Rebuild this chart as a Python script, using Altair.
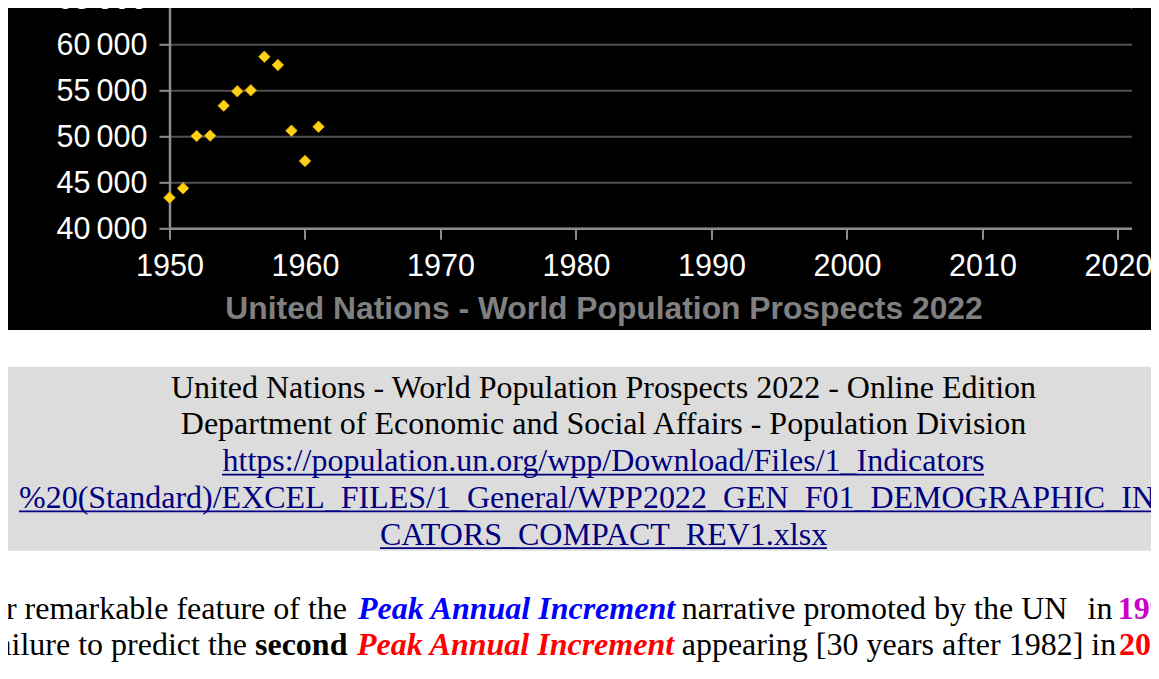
import altair as alt
import pandas as pd

# ---------------- data ----------------
years = [1950, 1951, 1952, 1953, 1954, 1955, 1956, 1957, 1958, 1959, 1960, 1961, 1962, 2021]
increments = [43330, 44350, 50030, 50070, 53330, 54890, 55000, 58650, 57750, 50610, 47320, 51040, 65300, 64520]
x_ticks = [1950, 1960, 1970, 1980, 1990, 2000, 2010, 2020]
y_ticks = [40000, 45000, 50000, 55000, 60000, 65000]

axis_title = "United Nations - World Population Prospects 2022"
box_lines = [
    "United Nations - World Population Prospects 2022 - Online Edition",
    "Department of Economic and Social Affairs - Population Division",
]
link_lines = [
    "https://population.un.org/wpp/Download/Files/1_Indicators",
    "%20(Standard)/EXCEL_FILES/1_General/WPP2022_GEN_F01_DEMOGRAPHIC_INDI",
    "CATORS_COMPACT_REV1.xlsx",
]
para1 = ["Another remarkable feature of the", "Peak Annual Increment",
         "narrative promoted by the UN", "in", "1990"]
para2 = ["failure to predict the", "second", "Peak Annual Increment",
         "appearing [30 years after 1982] in", "2012"]

df = pd.DataFrame({"year": years, "increment": increments})
one = pd.DataFrame({"k": [0]})

# ---------------- layout (page pixels -> plot pixels) ----------------
OX, OY = 169.5, -1.7          # page position of the plot origin
PLOT_W, PLOT_H = 962, 230
SVG_W, SVG_H = 1143, 655


def px(x):
    return x - OX


def py(y):
    return y - OY


SERIF = "Liberation Serif"
SANS = "Liberation Sans"
FS = 32


def txt(s, x, y, align="left", color="black", size=FS, font=SERIF,
        weight="normal", style="normal"):
    return alt.Chart(one).mark_text(
        align=align, baseline="alphabetic", font=font, fontSize=size,
        fontWeight=weight, fontStyle=style, color=color, clip=False
    ).encode(x=alt.value(px(x)), y=alt.value(py(y)), text=alt.value(s))


def box(x1, x2, y1, y2, color):
    return alt.Chart(one).mark_rect(color=color, clip=False).encode(
        x=alt.value(px(x1)), x2=alt.value(px(x2)),
        y=alt.value(py(y1)), y2=alt.value(py(y2)))


def underline(x1, x2, y, color):
    return alt.Chart(one).mark_rule(color=color, strokeWidth=1.8, clip=False).encode(
        x=alt.value(px(x1)), x2=alt.value(px(x2)), y=alt.value(py(y)))


AXC = "#8c8c8c"
THIN = "\u2009"
points = alt.Chart(df).mark_point(
    shape="diamond", filled=True, size=130, fill="#ffd21a", stroke="#e0a800",
    strokeWidth=1, opacity=1, clip=False
).encode(
    x=alt.X("year:Q", scale=alt.Scale(domain=[1950, 2021], nice=False, zero=False),
            axis=alt.Axis(values=x_ticks, format="d", title=None, grid=False,
                          domainColor=AXC, domainWidth=2.5, tickColor=AXC, tickWidth=2,
                          tickSize=11, labelColor="white", labelFont=SANS,
                          labelFontSize=30.5, labelPadding=12, labelFlush=False,
                          labelOverlap=False)),
    y=alt.Y("increment:Q", scale=alt.Scale(domain=[40000, 65000], nice=False, zero=False),
            axis=alt.Axis(values=y_ticks, title=None, grid=True, gridColor="#505050",
                          gridWidth=2, domainColor=AXC, domainWidth=2.5, tickColor=AXC,
                          tickWidth=2, tickSize=10.5, labelColor="white", labelFont=SANS,
                          labelFontSize=30.5, labelPadding=12, labelOffset=1,
                          labelFlush=False, labelOverlap=False,
                          labelExpr="replace(format(datum.value, ','), ',', '" + THIN + "')")),
)

NAVY = "#000080"
L1, L2 = 619.3, 655.3
layers = [
    points,
    txt(axis_title, 604, 319.3, align="center", color="#808080", size=31.8,
        font=SANS, weight="bold"),
    box(8, 1170, 330, 700, "white"),
    box(8, 1170, 366.7, 550.7, "#dcdcdc"),
    txt(box_lines[0], 603.5, 397.5, align="center"),
    txt(box_lines[1], 603.5, 434.3, align="center"),
    txt(link_lines[0], 603.5, 471.1, align="center", color=NAVY),
    txt(link_lines[1], 19, 507.9, color=NAVY),
    txt(link_lines[2], 603.5, 544.7, align="center", color=NAVY),
    underline(222, 984, 474.6, NAVY),
    underline(19, 1170, 511.4, NAVY),
    underline(380, 827, 548.2, NAVY),
    # paragraph line 1
    txt(para1[0], 347, L1, align="right"),
    txt(para1[1], 358, L1, color="#0000ff", weight="bold", style="italic"),
    txt(para1[2], 681.7, L1),
    txt(para1[3], 1087.5, L1),
    txt(para1[4], 1117.7, L1, color="#cc00cc", weight="bold"),
    # paragraph line 2
    txt(para2[0], 247, L2, align="right"),
    txt(para2[1], 255, L2, weight="bold"),
    txt(para2[2], 357, L2, color="#ff0000", weight="bold", style="italic"),
    txt(para2[3], 681.7, L2),
    txt(para2[4], 1119, L2, color="#ff0000", weight="bold"),
]

chart = alt.layer(*layers).properties(
    width=PLOT_W, height=PLOT_H,
    autosize=alt.AutoSizeParams(type="none"),
    padding={"left": OX - 8, "top": OY - 8,
             "right": SVG_W - (OX - 8) - PLOT_W,
             "bottom": SVG_H - (OY - 8) - PLOT_H},
).configure(background="black").configure_view(strokeWidth=0)

chart.save("out.html", embed_options={"renderer": "svg", "actions": False})
